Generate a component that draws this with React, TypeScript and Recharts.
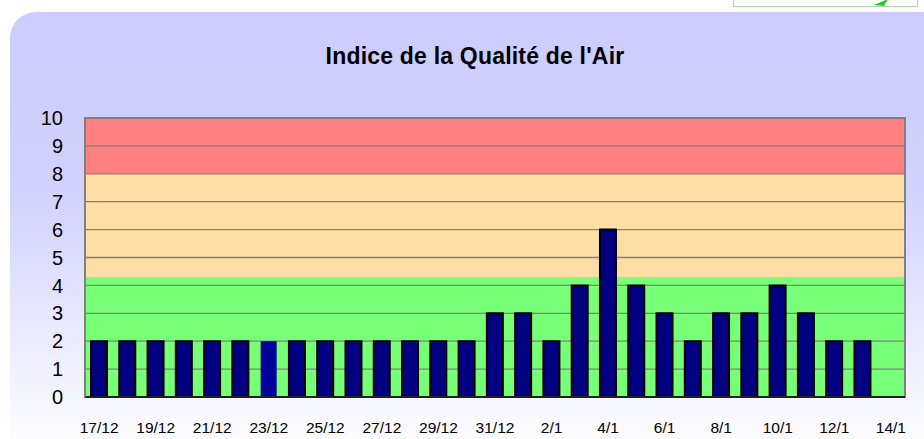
import React from 'react';
import { BarChart, Bar, XAxis, YAxis, CartesianGrid, ReferenceArea, Cell } from 'recharts';

const dates = [
  '17/12', '18/12', '19/12', '20/12', '21/12', '22/12', '23/12', '24/12', '25/12', '26/12',
  '27/12', '28/12', '29/12', '30/12', '31/12', '1/1', '2/1', '3/1', '4/1', '5/1',
  '6/1', '7/1', '8/1', '9/1', '10/1', '11/1', '12/1', '13/1', '14/1',
];
const iqaValues: (number | null)[] = [
  2, 2, 2, 2, 2, 2, 2, 2, 2, 2,
  2, 2, 2, 2, 3, 3, 2, 4, 6, 4,
  3, 2, 3, 3, 4, 3, 2, 2, null,
];
const highlightedDate = '23/12';
const yTicks = [0, 1, 2, 3, 4, 5, 6, 7, 8, 9, 10];
const bandLimits = [0, 4.3, 8, 10];
const bandColors = ['#78FF78', '#FFDEA6', '#FF8080'];
const title = "Indice de la Qualité de l'Air";

const data = dates.map((d, i) => ({ date: d, iqa: iqaValues[i] }));

const FONT = '"Liberation Sans", Arial, sans-serif';

export default function App() {
  return (
    <div style={{ position: 'absolute', left: 0, top: 0, width: 924, height: 439, overflow: 'hidden', background: '#fff', fontFamily: FONT }}>
      <div
        style={{
          position: 'absolute', left: 10, top: 12, width: 940, height: 480,
          borderRadius: 26,
          background: 'linear-gradient(to bottom, #CCCCFF 0px, #D2D2FF 180px, #E6E6FF 300px, #FFFFFF 440px)',
        }}
      />
      <div style={{ position: 'absolute', left: 733, top: -20, width: 183, height: 25, border: '1px solid #A6DCA6', background: '#fff' }}>
        <svg width={20} height={10} style={{ position: 'absolute', left: 140, top: 18 }}>
          <polygon points="0,6 14,0 10,7" fill="#22CC22" />
        </svg>
      </div>
      <div
        style={{
          position: 'absolute', left: 275, top: 42, width: 400, textAlign: 'center',
          fontSize: 23, fontWeight: 'bold', color: '#000', fontFamily: FONT, lineHeight: '28px',
          letterSpacing: '0.2px',
        }}
      >
        {title}
      </div>
      <div style={{ position: 'absolute', left: 0, top: 0 }}>
        <BarChart
          width={924}
          height={439}
          data={data}
          margin={{ top: 118, right: 19, bottom: 0, left: 25 }}
          barCategoryGap={0}
        >
          {bandColors.map((c, i) => (
            <ReferenceArea
              key={i}
              y1={bandLimits[i]}
              y2={bandLimits[i + 1]}
              fill={c}
              fillOpacity={1}
              stroke="none"
              ifOverflow="hidden"
              zIndex={-200}
            />
          ))}
          <CartesianGrid vertical={false} stroke="#808080" strokeWidth={1.3} horizontalValues={yTicks} />
          <ReferenceArea y1={0} y2={10} fill="none" stroke="#808080" strokeWidth={2} zIndex={-90} />
          <XAxis
            dataKey="date"
            interval={1}
            height={42}
            tickLine={false}
            tickSize={6}
            tickMargin={19}
            axisLine={{ stroke: '#202020', strokeWidth: 2 }}
            tick={{ fontSize: 15.5, fill: '#000', fontFamily: FONT }}
          />
          <YAxis
            domain={[0, 10]}
            ticks={yTicks}
            interval={0}
            width={60}
            tickLine={false}
            tickSize={6}
            tickMargin={16}
            axisLine={{ stroke: '#808080', strokeWidth: 2 }}
            tick={{ fontSize: 20, fill: '#000', fontFamily: FONT }}
            allowDataOverflow
          />
          <Bar dataKey="iqa" barSize={16} fill="#000080" stroke="#000" strokeWidth={2} isAnimationActive={false}>
            {data.map((d, i) => (
              <Cell
                key={i}
                fill={d.date === highlightedDate ? '#00009C' : '#000080'}
                stroke={d.date === highlightedDate ? 'none' : '#000'}
              />
            ))}
          </Bar>
        </BarChart>
      </div>
    </div>
  );
}
